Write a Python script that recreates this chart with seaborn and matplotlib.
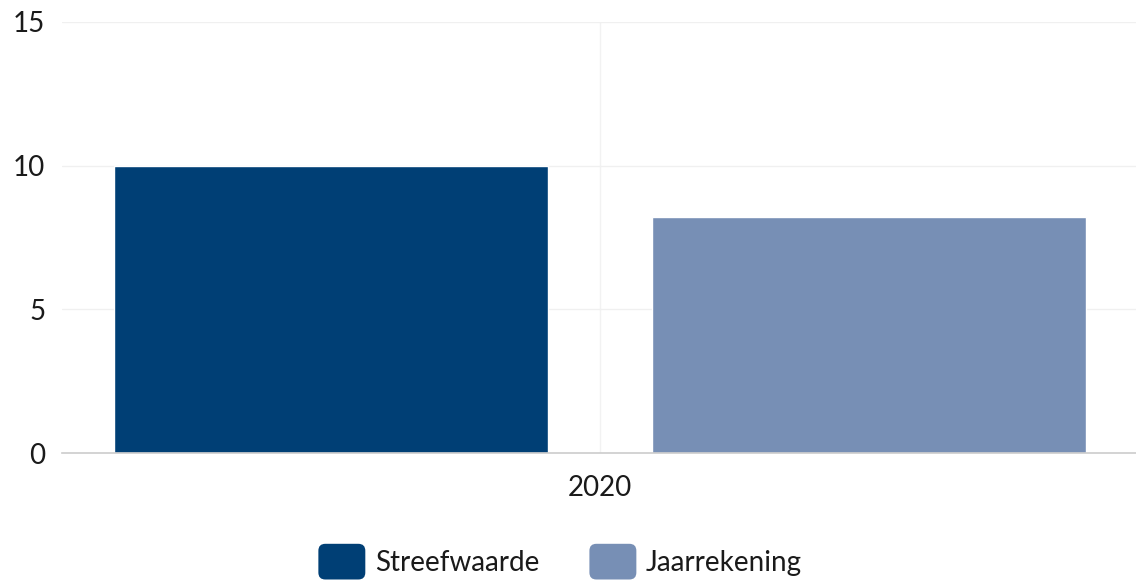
import matplotlib
matplotlib.use('Agg')
import matplotlib.pyplot as plt
from matplotlib.patches import FancyBboxPatch
from matplotlib.legend_handler import HandlerPatch
import seaborn as sns
import pandas as pd

years = ['2020']
series = ['Streefwaarde', 'Jaarrekening']
values = [10, 8.2]
colors = ['#003f75', '#778fb5']

df = pd.DataFrame({'Jaar': years * len(series), 'Reeks': series, 'Waarde': values})


class RoundedHandler(HandlerPatch):
    def create_artists(self, legend, orig_handle, xdescent, ydescent,
                       width, height, fontsize, trans):
        p = FancyBboxPatch((-xdescent + 3, -ydescent + 3), width - 6, height - 6,
                           boxstyle='round,pad=3,rounding_size=5',
                           facecolor=orig_handle.get_facecolor(),
                           edgecolor='none', transform=trans)
        return [p]


sns.set_theme(style='white')
plt.rcParams['font.family'] = ['Lato', 'DejaVu Sans']

fig = plt.figure(figsize=(11.36, 5.82), dpi=100)
ax = fig.add_axes([0.0546, 0.2216, 0.9472, 0.7406])

sns.barplot(data=df, x='Jaar', y='Waarde', hue='Reeks', palette=colors,
            width=1.0, gap=0.195, saturation=1, ax=ax, legend=True)

ax.set_ylim(0, 15)
ax.set_xlim(-0.5, 0.5)
ax.set_yticks([0, 5, 10, 15])
ax.grid(axis='y', color='#f0f0f0', linewidth=1)
ax.axvline(0, color='#f2f2f2', linewidth=1, zorder=0)
ax.set_axisbelow(True)
for s in ['top', 'right', 'left']:
    ax.spines[s].set_visible(False)
ax.spines['bottom'].set_color('#cccccc')
ax.spines['bottom'].set_linewidth(1.2)
ax.tick_params(axis='both', length=0, labelsize=20, colors='#1a1a1a')
ax.tick_params(axis='x', pad=16)
ax.tick_params(axis='y', pad=12)
ax.set_xlabel('')
ax.set_ylabel('')

handles, labels = ax.get_legend_handles_labels()
ax.legend(handles, labels, loc='center', bbox_to_anchor=(0.463, -0.252),
          ncol=2, frameon=False, fontsize=20, handlelength=1.69, handleheight=1.6,
          handletextpad=0.35, columnspacing=1.8, labelcolor='#1a1a1a',
          borderpad=0, handler_map={h: RoundedHandler() for h in handles})

fig.savefig('out.png', dpi=100)
